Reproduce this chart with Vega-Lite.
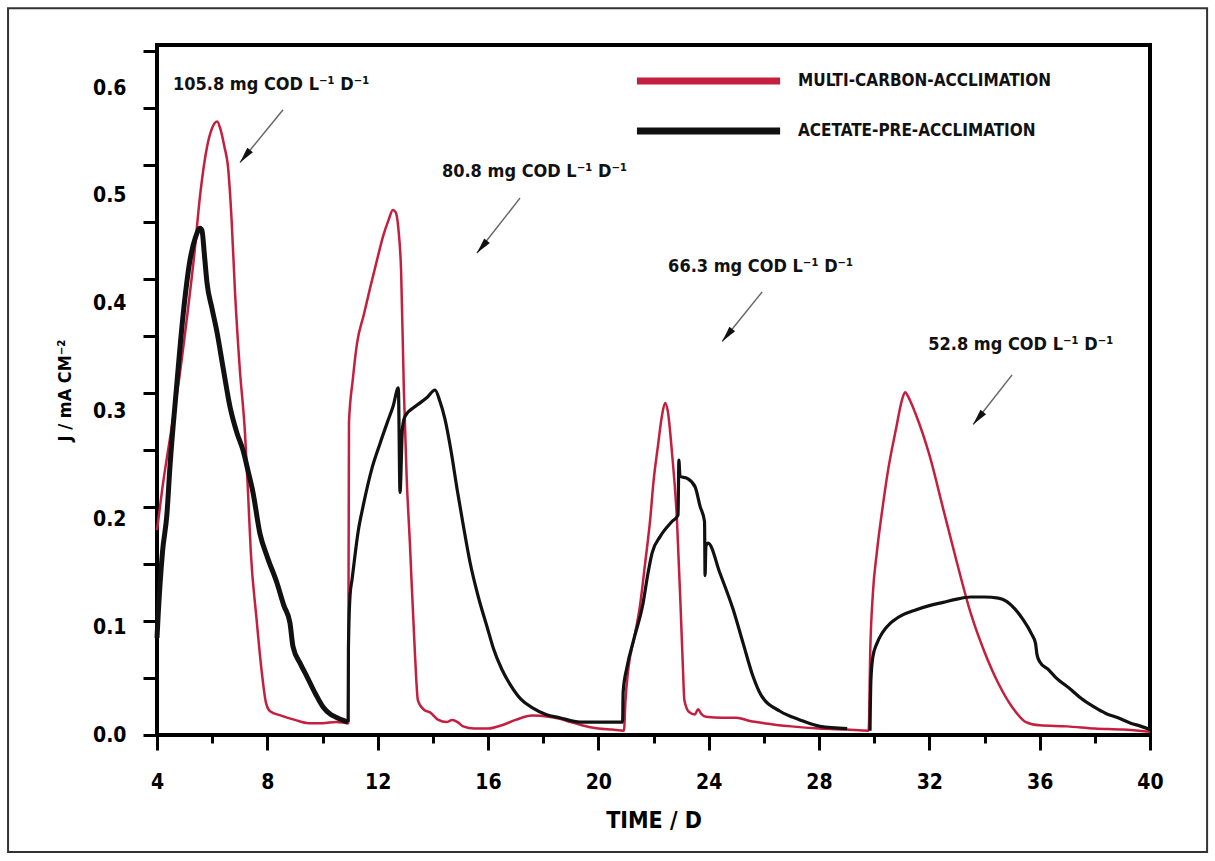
{
  "$schema": "https://vega.github.io/schema/vega-lite/v6.json",
  "width": 993,
  "height": 690,
  "autosize": {"type": "none"},
  "padding": {"left": 157, "top": 45, "right": 65, "bottom": 126},
  "background": "white",
  "config": {
    "view": {"stroke": "#000000", "strokeWidth": 4},
    "font": "Liberation Sans Narrow, DejaVu Sans Condensed, sans-serif"
  },
  "datasets": {
    "red": [
      {"g":"r","x":4.0,"y":0.19},{"g":"r","x":4.2,"y":0.23},{"g":"r","x":4.5,"y":0.28},{"g":"r","x":4.8,"y":0.33},{"g":"r","x":5.1,"y":0.39},{"g":"r","x":5.35,"y":0.445},{"g":"r","x":5.56,"y":0.5},{"g":"r","x":5.81,"y":0.545},{"g":"r","x":6.0,"y":0.563},{"g":"r","x":6.18,"y":0.569},{"g":"r","x":6.3,"y":0.562},{"g":"r","x":6.45,"y":0.545},{"g":"r","x":6.57,"y":0.528},{"g":"r","x":6.7,"y":0.48},{"g":"r","x":6.83,"y":0.41},{"g":"r","x":7.0,"y":0.34},{"g":"r","x":7.19,"y":0.28},{"g":"r","x":7.3,"y":0.225},{"g":"r","x":7.4,"y":0.17},{"g":"r","x":7.6,"y":0.11},{"g":"r","x":7.8,"y":0.058},{"g":"r","x":7.95,"y":0.03},{"g":"r","x":8.1,"y":0.022},{"g":"r","x":8.5,"y":0.018},{"g":"r","x":9.0,"y":0.014},{"g":"r","x":9.5,"y":0.011},{"g":"r","x":10.0,"y":0.011},{"g":"r","x":10.5,"y":0.012},{"g":"r","x":10.93,"y":0.011},{"g":"r","x":10.96,"y":0.29},{"g":"r","x":11.1,"y":0.33},{"g":"r","x":11.25,"y":0.363},{"g":"r","x":11.5,"y":0.39},{"g":"r","x":11.72,"y":0.414},{"g":"r","x":12.0,"y":0.443},{"g":"r","x":12.19,"y":0.462},{"g":"r","x":12.4,"y":0.478},{"g":"r","x":12.55,"y":0.487},{"g":"r","x":12.65,"y":0.485},{"g":"r","x":12.75,"y":0.47},{"g":"r","x":12.85,"y":0.43},{"g":"r","x":12.95,"y":0.32},{"g":"r","x":13.05,"y":0.24},{"g":"r","x":13.17,"y":0.177},{"g":"r","x":13.35,"y":0.076},{"g":"r","x":13.46,"y":0.032},{"g":"r","x":13.7,"y":0.023},{"g":"r","x":13.9,"y":0.021},{"g":"r","x":14.2,"y":0.014},{"g":"r","x":14.5,"y":0.012},{"g":"r","x":14.7,"y":0.014},{"g":"r","x":14.9,"y":0.012},{"g":"r","x":15.1,"y":0.008},{"g":"r","x":15.5,"y":0.006},{"g":"r","x":16.0,"y":0.006},{"g":"r","x":16.5,"y":0.009},{"g":"r","x":17.0,"y":0.014},{"g":"r","x":17.6,"y":0.018},{"g":"r","x":18.2,"y":0.017},{"g":"r","x":18.6,"y":0.015},{"g":"r","x":19.0,"y":0.012},{"g":"r","x":19.4,"y":0.009},{"g":"r","x":20.0,"y":0.006},{"g":"r","x":20.5,"y":0.005},{"g":"r","x":20.93,"y":0.004},{"g":"r","x":20.98,"y":0.03},{"g":"r","x":21.08,"y":0.06},{"g":"r","x":21.3,"y":0.09},{"g":"r","x":21.51,"y":0.12},{"g":"r","x":21.7,"y":0.16},{"g":"r","x":21.88,"y":0.2},{"g":"r","x":22.0,"y":0.235},{"g":"r","x":22.16,"y":0.268},{"g":"r","x":22.3,"y":0.295},{"g":"r","x":22.42,"y":0.308},{"g":"r","x":22.52,"y":0.3},{"g":"r","x":22.67,"y":0.262},{"g":"r","x":22.85,"y":0.2},{"g":"r","x":23.0,"y":0.107},{"g":"r","x":23.07,"y":0.06},{"g":"r","x":23.12,"y":0.032},{"g":"r","x":23.3,"y":0.021},{"g":"r","x":23.5,"y":0.019},{"g":"r","x":23.62,"y":0.024},{"g":"r","x":23.72,"y":0.02},{"g":"r","x":23.9,"y":0.017},{"g":"r","x":24.5,"y":0.016},{"g":"r","x":25.0,"y":0.016},{"g":"r","x":25.5,"y":0.013},{"g":"r","x":26.0,"y":0.011},{"g":"r","x":27.0,"y":0.008},{"g":"r","x":28.0,"y":0.006},{"g":"r","x":29.0,"y":0.005},{"g":"r","x":29.8,"y":0.004},{"g":"r","x":29.86,"y":0.08},{"g":"r","x":29.95,"y":0.13},{"g":"r","x":30.1,"y":0.17},{"g":"r","x":30.3,"y":0.21},{"g":"r","x":30.5,"y":0.245},{"g":"r","x":30.8,"y":0.285},{"g":"r","x":31.0,"y":0.31},{"g":"r","x":31.12,"y":0.318},{"g":"r","x":31.25,"y":0.313},{"g":"r","x":31.5,"y":0.298},{"g":"r","x":32.0,"y":0.26},{"g":"r","x":32.5,"y":0.21},{"g":"r","x":33.0,"y":0.16},{"g":"r","x":33.5,"y":0.113},{"g":"r","x":34.0,"y":0.077},{"g":"r","x":34.5,"y":0.048},{"g":"r","x":35.0,"y":0.026},{"g":"r","x":35.5,"y":0.012},{"g":"r","x":36.0,"y":0.009},{"g":"r","x":37.0,"y":0.008},{"g":"r","x":38.0,"y":0.006},{"g":"r","x":39.0,"y":0.005},{"g":"r","x":40.0,"y":0.003}
    ],
    "black": [
      {"g":"b1","x":4.0,"y":0.09},{"g":"b1","x":4.04,"y":0.11},{"g":"b1","x":4.2,"y":0.17},{"g":"b1","x":4.36,"y":0.205},{"g":"b1","x":4.47,"y":0.249},{"g":"b1","x":4.7,"y":0.32},{"g":"b1","x":4.94,"y":0.388},{"g":"b1","x":5.2,"y":0.441},{"g":"b1","x":5.4,"y":0.462},{"g":"b1","x":5.56,"y":0.47},{"g":"b1","x":5.63,"y":0.468},{"g":"b1","x":5.72,"y":0.445},{"g":"b1","x":5.81,"y":0.42},{"g":"b1","x":6.0,"y":0.395},{"g":"b1","x":6.18,"y":0.373},{"g":"b1","x":6.4,"y":0.34},{"g":"b1","x":6.65,"y":0.304},{"g":"b1","x":6.9,"y":0.28},{"g":"b1","x":7.12,"y":0.264},{"g":"b1","x":7.3,"y":0.245},{"g":"b1","x":7.48,"y":0.225},{"g":"b1","x":7.73,"y":0.187},{"g":"b1","x":8.0,"y":0.165},{"g":"b1","x":8.35,"y":0.141},{"g":"b1","x":8.6,"y":0.12},{"g":"b1","x":8.82,"y":0.104},{"g":"b1","x":8.93,"y":0.082},{"g":"b1","x":9.2,"y":0.066},{"g":"b1","x":9.44,"y":0.054},{"g":"b1","x":9.75,"y":0.038},{"g":"b1","x":10.02,"y":0.026},{"g":"b1","x":10.3,"y":0.019},{"g":"b1","x":10.53,"y":0.016},{"g":"b1","x":10.93,"y":0.012},
      {"g":"b2","x":10.93,"y":0.012},{"g":"b2","x":10.94,"y":0.08},{"g":"b2","x":11.0,"y":0.13},{"g":"b2","x":11.07,"y":0.144},{"g":"b2","x":11.3,"y":0.19},{"g":"b2","x":11.47,"y":0.212},{"g":"b2","x":11.8,"y":0.248},{"g":"b2","x":12.08,"y":0.27},{"g":"b2","x":12.35,"y":0.29},{"g":"b2","x":12.56,"y":0.305},{"g":"b2","x":12.75,"y":0.322},{"g":"b2","x":12.81,"y":0.225},{"g":"b2","x":12.9,"y":0.285},{"g":"b2","x":13.0,"y":0.296},{"g":"b2","x":13.43,"y":0.306},{"g":"b2","x":13.79,"y":0.313},{"g":"b2","x":14.08,"y":0.32},{"g":"b2","x":14.25,"y":0.31},{"g":"b2","x":14.44,"y":0.293},{"g":"b2","x":14.65,"y":0.265},{"g":"b2","x":14.88,"y":0.228},{"g":"b2","x":15.1,"y":0.195},{"g":"b2","x":15.35,"y":0.16},{"g":"b2","x":15.65,"y":0.128},{"g":"b2","x":15.97,"y":0.1},{"g":"b2","x":16.2,"y":0.08},{"g":"b2","x":16.5,"y":0.061},{"g":"b2","x":16.8,"y":0.047},{"g":"b2","x":17.2,"y":0.033},{"g":"b2","x":17.63,"y":0.025},{"g":"b2","x":18.1,"y":0.019},{"g":"b2","x":18.6,"y":0.016},{"g":"b2","x":19.34,"y":0.012},{"g":"b2","x":20.0,"y":0.012},{"g":"b2","x":20.5,"y":0.012},{"g":"b2","x":20.88,"y":0.012},{"g":"b2","x":20.9,"y":0.04},{"g":"b2","x":21.04,"y":0.063},{"g":"b2","x":21.3,"y":0.09},{"g":"b2","x":21.62,"y":0.122},{"g":"b2","x":21.8,"y":0.15},{"g":"b2","x":21.95,"y":0.169},{"g":"b2","x":22.24,"y":0.184},{"g":"b2","x":22.67,"y":0.198},{"g":"b2","x":22.89,"y":0.204},{"g":"b2","x":22.92,"y":0.255},{"g":"b2","x":22.96,"y":0.24},{"g":"b2","x":23.22,"y":0.238},{"g":"b2","x":23.51,"y":0.23},{"g":"b2","x":23.69,"y":0.212},{"g":"b2","x":23.85,"y":0.198},{"g":"b2","x":23.87,"y":0.148},{"g":"b2","x":23.9,"y":0.175},{"g":"b2","x":23.98,"y":0.178},{"g":"b2","x":24.41,"y":0.15},{"g":"b2","x":24.88,"y":0.117},{"g":"b2","x":25.25,"y":0.085},{"g":"b2","x":25.6,"y":0.055},{"g":"b2","x":25.9,"y":0.037},{"g":"b2","x":26.59,"y":0.022},{"g":"b2","x":27.31,"y":0.014},{"g":"b2","x":28.04,"y":0.008},{"g":"b2","x":29.02,"y":0.006},
      {"g":"b3","x":29.85,"y":0.004},{"g":"b3","x":29.88,"y":0.05},{"g":"b3","x":29.95,"y":0.072},{"g":"b3","x":30.1,"y":0.085},{"g":"b3","x":30.3,"y":0.095},{"g":"b3","x":30.6,"y":0.104},{"g":"b3","x":31.0,"y":0.111},{"g":"b3","x":31.5,"y":0.116},{"g":"b3","x":32.0,"y":0.12},{"g":"b3","x":32.5,"y":0.123},{"g":"b3","x":33.0,"y":0.126},{"g":"b3","x":33.5,"y":0.128},{"g":"b3","x":34.0,"y":0.128},{"g":"b3","x":34.5,"y":0.127},{"g":"b3","x":34.8,"y":0.124},{"g":"b3","x":35.1,"y":0.117},{"g":"b3","x":35.4,"y":0.107},{"g":"b3","x":35.7,"y":0.094},{"g":"b3","x":35.85,"y":0.085},{"g":"b3","x":35.9,"y":0.075},{"g":"b3","x":36.0,"y":0.068},{"g":"b3","x":36.3,"y":0.061},{"g":"b3","x":36.56,"y":0.054},{"g":"b3","x":37.14,"y":0.042},{"g":"b3","x":37.5,"y":0.034},{"g":"b3","x":37.97,"y":0.026},{"g":"b3","x":38.4,"y":0.02},{"g":"b3","x":38.84,"y":0.016},{"g":"b3","x":39.3,"y":0.011},{"g":"b3","x":39.68,"y":0.008},{"g":"b3","x":40.0,"y":0.005}
    ],
    "frame": [{"x": -1.4, "x2": 42.07, "y": 0.674, "y2": -0.1085}],
    "legend": [
      {"s": "Multi-carbon", "x": 21.4, "x2": 26.59, "tx": 27.24, "y": 0.6067, "label": "MULTI-CARBON-ACCLIMATION"},
      {"s": "Acetate", "x": 21.4, "x2": 26.59, "tx": 27.24, "y": 0.5603, "label": "ACETATE-PRE-ACCLIMATION"}
    ],
    "notes": [
      {"x": 4.58, "y": 0.603, "label": "105.8 mg COD L⁻¹ D⁻¹"},
      {"x": 14.33, "y": 0.522, "label": "80.8 mg COD L⁻¹ D⁻¹"},
      {"x": 22.53, "y": 0.434, "label": "66.3 mg COD L⁻¹ D⁻¹"},
      {"x": 31.96, "y": 0.362, "label": "52.8 mg COD L⁻¹ D⁻¹"}
    ],
    "arrows": [
      {"x": 8.57, "y": 0.58, "x2": 7.01, "y2": 0.531},
      {"x": 17.16, "y": 0.498, "x2": 15.6, "y2": 0.447},
      {"x": 25.94, "y": 0.411, "x2": 24.49, "y2": 0.365},
      {"x": 35.0, "y": 0.334, "x2": 33.59, "y2": 0.288}
    ]
  },
  "layer": [
    {
      "data": {"name": "frame"},
      "mark": {"type": "rect", "fill": null, "filled": false, "stroke": "#333333", "strokeWidth": 2, "clip": false},
      "encoding": {
        "x": {"field": "x", "type": "quantitative", "scale": {"domain": [4, 40], "nice": false, "zero": false}},
        "x2": {"field": "x2"},
        "y": {"field": "y", "type": "quantitative", "scale": {"domain": [0, 0.64], "nice": false, "zero": false}, "axis": null},
        "y2": {"field": "y2"}
      }
    },
    {
      "data": {"name": "red"},
      "mark": {"type": "line", "color": "#c41f3e", "strokeWidth": 2.5, "strokeJoin": "round", "interpolate": "monotone"},
      "encoding": {
        "x": {
          "field": "x", "type": "quantitative",
          "scale": {"domain": [4, 40], "nice": false, "zero": false},
          "axis": {
            "values": [4, 6, 8, 10, 12, 14, 16, 18, 20, 22, 24, 26, 28, 30, 32, 34, 36, 38, 40],
            "labelExpr": "datum.value % 4 == 0 ? datum.label : ''",
            "tickSize": {"condition": {"test": "datum.value % 4 == 0", "value": 15}, "value": 8},
            "tickWidth": 3, "tickColor": "#000000",
            "domain": false, "grid": false,
            "labelFontSize": 21, "labelFontWeight": "bold", "labelColor": "#000000", "labelPadding": 21,
            "labelFlush": false,
            "title": "TIME / D", "titleFontSize": 23, "titleFontWeight": "bold", "titleColor": "#000000", "titlePadding": 17
          }
        },
        "y": {
          "field": "y", "type": "quantitative",
          "scale": {"domain": [0, 0.64], "nice": false, "zero": false},
          "axis": {
            "orient": "left",
            "values": [0, 0.0529, 0.1058, 0.1587, 0.2116, 0.2645, 0.3174, 0.3703, 0.4232, 0.4761, 0.529, 0.5819, 0.6348],
            "labels": false, "domain": false, "grid": false,
            "tickSize": 14, "tickWidth": 3, "tickColor": "#000000",
            "title": null
          }
        },
        "detail": {"field": "g"}
      }
    },
    {
      "data": {"name": "black"},
      "transform": [{"filter": "datum.g != 'b1'"}],
      "mark": {"type": "line", "color": "#111111", "strokeWidth": 3.2, "strokeJoin": "round", "interpolate": "monotone"},
      "encoding": {
        "x": {"field": "x", "type": "quantitative", "scale": {"domain": [4, 40], "nice": false, "zero": false}},
        "y": {"field": "y", "type": "quantitative", "scale": {"domain": [0, 0.64], "nice": false, "zero": false}, "axis": null},
        "detail": {"field": "g"}
      }
    },
    {
      "data": {"name": "black"},
      "transform": [{"filter": "datum.g == 'b1'"}],
      "mark": {"type": "line", "color": "#111111", "strokeWidth": 5, "strokeJoin": "round", "interpolate": "monotone"},
      "encoding": {
        "x": {"field": "x", "type": "quantitative", "scale": {"domain": [4, 40], "nice": false, "zero": false}},
        "y": {"field": "y", "type": "quantitative", "scale": {"domain": [0, 0.64], "nice": false, "zero": false}, "axis": null},
        "detail": {"field": "g"}
      }
    },
    {
      "data": {"name": "arrows"},
      "mark": {"type": "rule", "color": "#666666", "strokeWidth": 1.5},
      "encoding": {
        "x": {"field": "x", "type": "quantitative", "scale": {"domain": [4, 40], "nice": false, "zero": false}},
        "y": {"field": "y", "type": "quantitative", "scale": {"domain": [0, 0.64], "nice": false, "zero": false}, "axis": null},
        "x2": {"field": "x2"},
        "y2": {"field": "y2"}
      }
    },
    {
      "data": {"name": "arrows"},
      "mark": {"type": "point", "shape": "M0,0L-0.45,2L0.45,2Z", "filled": true, "color": "#111111", "size": 256, "angle": 219, "opacity": 1},
      "encoding": {
        "x": {"field": "x2", "type": "quantitative", "scale": {"domain": [4, 40], "nice": false, "zero": false}},
        "y": {"field": "y2", "type": "quantitative", "scale": {"domain": [0, 0.64], "nice": false, "zero": false}, "axis": null}
      }
    },
    {
      "data": {"name": "notes"},
      "mark": {"type": "text", "align": "left", "baseline": "middle", "fontSize": 18, "fontWeight": "bold", "color": "#111111"},
      "encoding": {
        "x": {"field": "x", "type": "quantitative", "scale": {"domain": [4, 40], "nice": false, "zero": false}},
        "y": {
          "field": "y", "type": "quantitative",
          "scale": {"domain": [0, 0.64], "nice": false, "zero": false},
          "axis": {
            "orient": "left",
            "values": [0, 0.1, 0.2, 0.3, 0.4, 0.5, 0.6],
            "format": ".1f",
            "domain": false, "grid": false,
            "ticks": true, "tickSize": 14, "tickColor": "transparent", "tickWidth": 0,
            "labelPadding": 17, "labelFontSize": 21, "labelFontWeight": "bold", "labelColor": "#000000",
            "labelFlush": false,
            "title": "J / mA CM⁻²", "titleFontSize": 18, "titleFontWeight": "bold", "titleColor": "#000000", "titlePadding": 18
          }
        },
        "text": {"field": "label"}
      }
    },
    {
      "data": {"name": "legend"},
      "mark": {"type": "rule", "strokeWidth": 7},
      "encoding": {
        "x": {"field": "x", "type": "quantitative", "scale": {"domain": [4, 40], "nice": false, "zero": false}},
        "x2": {"field": "x2"},
        "y": {"field": "y", "type": "quantitative", "scale": {"domain": [0, 0.64], "nice": false, "zero": false}, "axis": null},
        "color": {"field": "s", "type": "nominal", "scale": {"domain": ["Multi-carbon", "Acetate"], "range": ["#c41f3e", "#111111"]}, "legend": null}
      }
    },
    {
      "data": {"name": "legend"},
      "mark": {"type": "text", "align": "left", "baseline": "middle", "fontSize": 17, "fontWeight": "bold", "color": "#111111"},
      "encoding": {
        "x": {"field": "tx", "type": "quantitative", "scale": {"domain": [4, 40], "nice": false, "zero": false}},
        "y": {"field": "y", "type": "quantitative", "scale": {"domain": [0, 0.64], "nice": false, "zero": false}, "axis": null},
        "text": {"field": "label"}
      }
    }
  ],
  "resolve": {"axis": {"y": "independent"}}
}
